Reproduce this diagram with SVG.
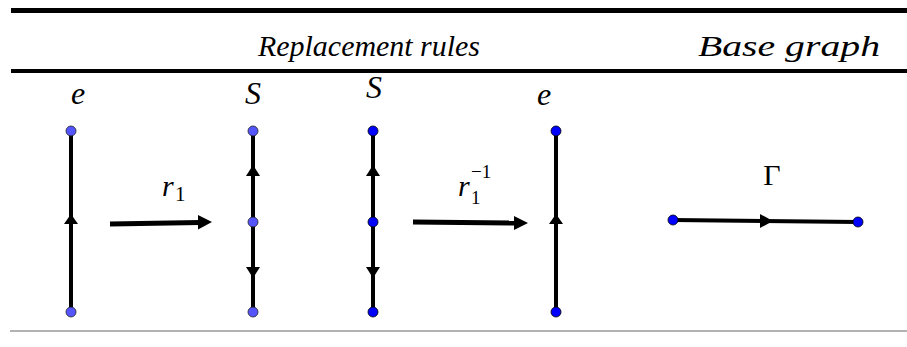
<svg xmlns="http://www.w3.org/2000/svg" width="907" height="347" viewBox="0 0 907 347">
<style>
.t{font-family:"Liberation Serif","Times New Roman",serif;font-style:italic;fill:#000}
.g{font-family:"Liberation Serif","Times New Roman",serif;font-style:normal;fill:#000}
.e{stroke:#000;stroke-width:4;fill:none}
.h{fill:#000}
.n1{fill:#5555ff;stroke:#222;stroke-width:0.8}
.n2{fill:#0000ff;stroke:#000;stroke-width:0.8}
</style>
<rect width="907" height="347" fill="#fff"/>
<g id="rules">
<line x1="11" y1="10.5" x2="907" y2="10.5" stroke="#000" stroke-width="5"/>
<line x1="11" y1="71" x2="907" y2="71" stroke="#000" stroke-width="4"/>
<line x1="10" y1="331" x2="907" y2="331" stroke="#999" stroke-width="1.5"/>
</g>
<g id="headers">
<text class="t" x="258" y="56" font-size="30" textLength="222" lengthAdjust="spacingAndGlyphs">Replacement rules</text>
<text class="t" x="698" y="56" font-size="30" textLength="182" lengthAdjust="spacingAndGlyphs">Base graph</text>
</g>
<g id="connectors">
<line class="e" x1="71" y1="131" x2="71" y2="312"/>
<polygon class="h" points="71,214 64,224 78,224"/>
<line class="e" x1="253" y1="131" x2="253" y2="312"/>
<polygon class="h" points="253,165 246,176 260,176"/>
<polygon class="h" points="253,278 246,267 260,267"/>
<line class="e" x1="373" y1="131" x2="373" y2="312"/>
<polygon class="h" points="373,165 366,176 380,176"/>
<polygon class="h" points="373,278 366,267 380,267"/>
<line class="e" x1="556" y1="131" x2="556" y2="312"/>
<polygon class="h" points="556,214 549,224 563,224"/>
<line x1="110" y1="224" x2="200" y2="222.5" stroke="#000" stroke-width="5"/>
<polygon class="h" points="212,222 198,215 198,229.5"/>
<line x1="413" y1="222" x2="516" y2="223" stroke="#000" stroke-width="5"/>
<polygon class="h" points="528,223 514,216 514,230"/>
<line class="e" x1="673" y1="220" x2="858" y2="222"/>
<polygon class="h" points="773,221 760,214 760,228"/>
</g>
<g id="node-e1">
<text class="t" x="78" y="104" font-size="32" text-anchor="middle">e</text>
<circle class="n1" cx="71" cy="131" r="5"/>
<circle class="n1" cx="71" cy="312" r="5"/>
</g>
<g id="node-S1">
<text class="t" x="253" y="104" font-size="32" text-anchor="middle">S</text>
<circle class="n1" cx="253" cy="131" r="5"/>
<circle class="n1" cx="253" cy="222" r="5"/>
<circle class="n1" cx="253" cy="312" r="5"/>
</g>
<g id="node-S2">
<text class="t" x="374" y="98" font-size="32" text-anchor="middle">S</text>
<circle class="n2" cx="373" cy="131" r="5"/>
<circle class="n2" cx="373" cy="222" r="5"/>
<circle class="n2" cx="373" cy="312" r="5"/>
</g>
<g id="node-e2">
<text class="t" x="544" y="105" font-size="32" text-anchor="middle">e</text>
<circle class="n2" cx="556" cy="131" r="5"/>
<circle class="n2" cx="556" cy="312" r="5"/>
</g>
<g id="label-r1">
<text class="t" x="162" y="196" font-size="30">r</text>
<text class="g" x="175" y="201" font-size="21">1</text>
</g>
<g id="label-r1inv">
<text class="t" x="458" y="196" font-size="30">r</text>
<text class="g" x="471" y="204" font-size="19">1</text>
<text class="g" x="471" y="178" font-size="19">−1</text>
</g>
<g id="node-Gamma">
<text class="g" x="772" y="185" font-size="30" text-anchor="middle">Γ</text>
<circle class="n2" cx="673" cy="220" r="5"/>
<circle class="n2" cx="858" cy="222" r="5"/>
</g>
</svg>
